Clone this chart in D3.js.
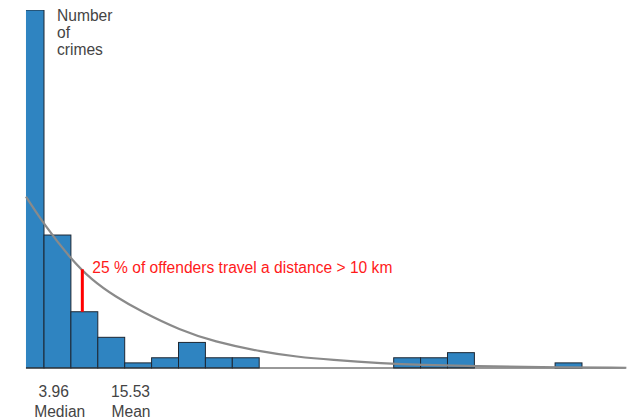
<!DOCTYPE html>
<html>
<head>
<meta charset="utf-8">
<script src="https://cdn.jsdelivr.net/npm/d3@7"></script>
<style>
  body { margin: 0; background: #fff; }
  text { font-family: "Liberation Sans", Arial, sans-serif; }
</style>
</head>
<body>
<script>
// histogram bins, 4 km wide (bin start in km)
var binStarts = [0, 4, 8, 12, 16, 20, 24, 28, 32, 56, 60, 64, 80];
var binCounts = [70, 26, 11, 6, 1, 2, 5, 2, 2, 2, 2, 3, 1];
var binWidth = 4;

// fitted curve (km, crimes)
var curveKm     = [1.32, 4.05, 7.87, 11.1, 14.57, 18.54, 24.24, 29.2, 36.6, 41.6, 46.6, 54.5, 60.0, 68.4, 77.3, 90.6];
var curveCounts = [33.5, 28.0, 21.5, 17.2, 14.0, 11.0, 7.4, 5.2, 3.1, 2.2, 1.6, 0.9, 0.6, 0.35, 0.15, 0.05];

var median = 3.96;
var mean = 15.53;
var cutKm = 9.7;        // the red marker ("> 10 km")
var cutTop = 19.3;      // curve value at the marker
var cutBottom = 11;     // bar value at the marker

var width = 631, height = 419;
var fs = 15.6;

var x = d3.scaleLinear().domain([0, 90.5]).range([17.1, 625.7]);
var y = d3.scaleLinear().domain([0, 70]).range([368, 10]);
var xStart = 1.32;

var svg = d3.select("body").append("svg")
  .attr("width", width)
  .attr("height", height);

svg.append("clipPath").attr("id", "plot")
  .append("rect")
  .attr("x", x(xStart))
  .attr("y", y(70))
  .attr("width", x(90.5) - x(xStart) + 2)
  .attr("height", y(0) - y(70) + 2);

var plot = svg.append("g").attr("clip-path", "url(#plot)");

// bars
plot.selectAll(".bar")
  .data(binStarts.map((d, i) => [d, binCounts[i]]))
  .enter().append("rect")
  .attr("class", "bar")
  .attr("x", d => x(d[0]))
  .attr("y", d => y(d[1]))
  .attr("width", d => x(d[0] + binWidth) - x(d[0]))
  .attr("height", d => y(0) - y(d[1]))
  .attr("fill", "#2f84c1")
  .attr("stroke", "#1d2733")
  .attr("stroke-width", 1);

// baseline
svg.append("line")
  .attr("x1", x(xStart)).attr("x2", x(90.5))
  .attr("y1", y(0)).attr("y2", y(0))
  .attr("stroke", "#333")
  .attr("stroke-width", 1);

// curve
var line = d3.line()
  .x(d => x(d[0]))
  .y(d => y(d[1]))
  .curve(d3.curveBasis);

svg.append("path")
  .datum(curveKm.map((d, i) => [d, curveCounts[i]]))
  .attr("d", line)
  .attr("fill", "none")
  .attr("stroke", "#8a8a8a")
  .attr("stroke-width", 2.2);

// red marker
svg.append("line")
  .attr("x1", x(cutKm)).attr("x2", x(cutKm))
  .attr("y1", y(cutTop)).attr("y2", y(cutBottom))
  .attr("stroke", "#ff0000")
  .attr("stroke-width", 3);

svg.append("text")
  .attr("x", x(cutKm) + 10)
  .attr("y", 273)
  .attr("font-size", fs)
  .attr("fill", "#ff1a1a")
  .text("25 % of offenders travel a distance > 10 km");

// y label
var ylab = svg.append("text")
  .attr("x", 57)
  .attr("y", 21)
  .attr("font-size", fs)
  .attr("fill", "#444");
["Number", "of", "crimes"].forEach((t, i) => {
  ylab.append("tspan").attr("x", 57).attr("dy", i ? 17 : 0).text(t);
});

// median / mean labels
var stats = [
  {v: median, name: "Median", dv: 10, dn: 16},
  {v: mean, name: "Mean", dv: 9, dn: 9.5}
];
stats.forEach(s => {
  svg.append("text")
    .attr("x", x(s.v) + s.dv).attr("y", 397)
    .attr("text-anchor", "middle")
    .attr("font-size", fs).attr("fill", "#444")
    .text(s.v.toFixed(2));
  svg.append("text")
    .attr("x", x(s.v) + s.dn).attr("y", 417)
    .attr("text-anchor", "middle")
    .attr("font-size", fs).attr("fill", "#444")
    .text(s.name);
});
</script>
</body>
</html>
